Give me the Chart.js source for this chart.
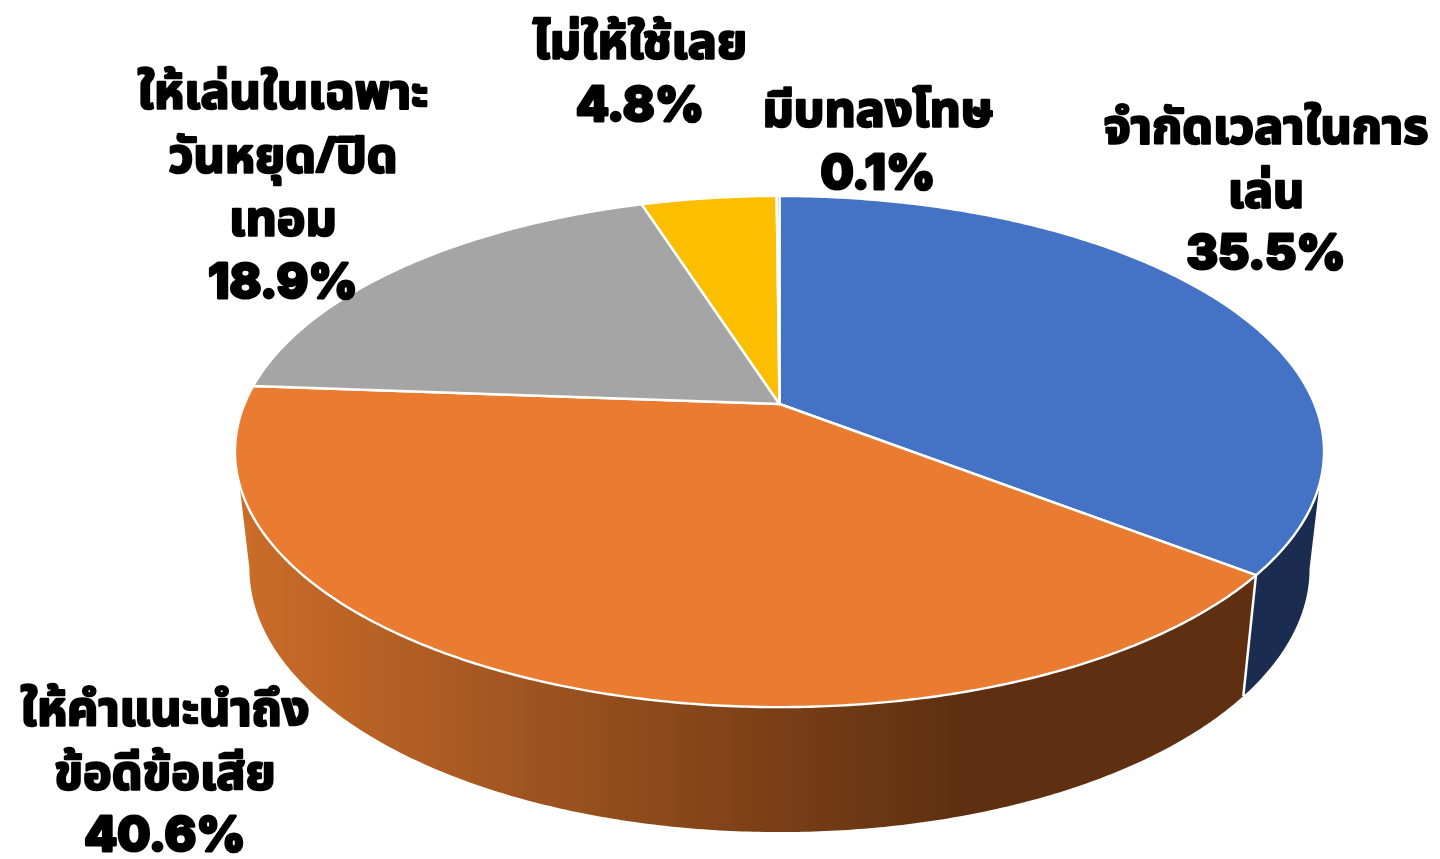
<!DOCTYPE html>
<html><head><meta charset="utf-8">
<style>html,body{margin:0;padding:0;background:#fff}canvas{display:block}</style>
<script src="https://cdn.jsdelivr.net/npm/chart.js@4"></script>
</head><body>
<canvas id="c" width="1440" height="859"></canvas>
<script>
const categories = ["จำกัดเวลาในการเล่น","ให้คำแนะนำถึงข้อดีข้อเสีย","ให้เล่นในเฉพาะวันหยุด/ปิดเทอม","ไม่ให้ใช้เลย","มีบทลงโทษ"];
const values = [35.5,40.6,18.9,4.8,0.1];
const sliceColors = ["#4472C4","#E97C30","#A5A5A5","#FCBF00","#5B9BD5"];
const labelLines = [["จำกัดเวลาในการ","เล่น"],["ให้คำแนะนำถึง","ข้อดีข้อเสีย"],["ให้เล่นในเฉพาะ","วันหยุด/ปิด","เทอม"],["ไม่ให้ใช้เลย"],["มีบทลงโทษ"]];
const percentLabels = ["35.5%","40.6%","18.9%","4.8%","0.1%"];
const labelCenterX = [1266,165,283,640,878];
const labelFirstBaseline = [143,725,108,58,126];
const LINE = 63.5;
const FONT = "700 48.5px 'Noto Sans Thai','Noto Sans',sans-serif";
const NUM_FONT = "800 48px Inter,'Noto Sans',sans-serif";
const topDisc = {cx:779.5,a:535,b:171.6,y:404,k:-0.186};
const lowDisc = {cx:779.5,a:520.8,b:157.8,y:519.5,k:-0.186};
function proj(d,th,r=1){const u=Math.sin(th)*r,v=-Math.cos(th)*r,w=1+d.k*v;return [d.cx+d.a*u/w,(d.y+d.b*v)/w];}
const rad=Math.PI/180;
function findTh(d,from,to,test){let best=from,bv=Infinity;for(let t=from;t<=to;t+=0.1*rad){const v=test(proj(d,t));if(v<bv){bv=v;best=t}}return best;}
function sidePoly(ctx,a0,a1,b0,b1){ctx.beginPath();
 const n=Math.ceil(Math.abs(a1-a0)/(0.5*rad));for(let i=0;i<=n;i++){const p=proj(topDisc,a0+(a1-a0)*i/n);i?ctx.lineTo(p[0],p[1]):ctx.moveTo(p[0],p[1]);}
 const m=Math.ceil(Math.abs(b1-b0)/(0.5*rad));for(let i=0;i<=m;i++){const p=proj(lowDisc,b1+(b0-b1)*i/m);ctx.lineTo(p[0],p[1]);}
 ctx.closePath();}
const pie3d={id:'pie3d',
 beforeDatasetDraw(chart,args){
  const ctx=chart.ctx,arcs=chart.getDatasetMeta(0).data;
  const ang=arcs.map(e=>[e.startAngle+Math.PI/2,e.endAngle+Math.PI/2]);
  const RIGHT_Y=484;
  const thR=findTh(topDisc,60*rad,120*rad,p=>Math.abs(p[1]-RIGHT_Y));
  const thL=findTh(topDisc,240*rad,300*rad,p=>Math.abs(p[1]-RIGHT_Y));
  const lowR=findTh(lowDisc,60*rad,120*rad,p=>-p[0]);
  const lowL=findTh(lowDisc,240*rad,300*rad,p=>p[0]);
  const split=ang[0][1];
  ctx.save();
  ctx.fillStyle="#1A2C50";sidePoly(ctx,thR,split,lowR,split);ctx.fill();
  const g=ctx.createLinearGradient(238,0,960,0);g.addColorStop(0,"#CB6D2A");g.addColorStop(1,"#5E2F10");
  ctx.fillStyle=g;sidePoly(ctx,split,thL,split,lowL);ctx.fill();
  const a=proj(topDisc,split),b=proj(lowDisc,split);
  ctx.strokeStyle="#fff";ctx.lineWidth=2.5;ctx.beginPath();ctx.moveTo(a[0],a[1]);ctx.lineTo(b[0],b[1]);ctx.stroke();
  arcs.forEach((e,i)=>{
    const s=ang[i][0],t=ang[i][1],n=Math.max(2,Math.ceil((t-s)/(0.5*rad)));
    ctx.beginPath();const c=proj(topDisc,0,0);ctx.moveTo(c[0],c[1]);
    for(let k=0;k<=n;k++){const p=proj(topDisc,s+(t-s)*k/n);ctx.lineTo(p[0],p[1]);}
    ctx.closePath();ctx.fillStyle=e.options.backgroundColor;ctx.fill();
    ctx.strokeStyle="#fff";ctx.lineWidth=2.4;ctx.lineJoin="round";ctx.stroke();
  });
  ctx.restore();
  return false;
 },
 afterDatasetsDraw(chart){
  const ctx=chart.ctx;ctx.save();ctx.fillStyle="#000";ctx.strokeStyle="#000";ctx.lineWidth=2.5;ctx.lineJoin="round";ctx.textAlign="center";ctx.textBaseline="alphabetic";
  labelLines.forEach((ls,i)=>{
    ctx.font=FONT;ctx.lineWidth=2.5;
    ls.forEach((s,j)=>{const y=labelFirstBaseline[i]+j*LINE;ctx.strokeText(s,labelCenterX[i],y);ctx.fillText(s,labelCenterX[i],y);});
    ctx.font=NUM_FONT;ctx.lineWidth=3;
    const y=labelFirstBaseline[i]+ls.length*LINE-1;ctx.strokeText(percentLabels[i],labelCenterX[i],y);ctx.fillText(percentLabels[i],labelCenterX[i],y);
  });
  ctx.restore();
 }
};
new Chart(document.getElementById('c'),{type:'pie',
 data:{labels:categories,datasets:[{data:values,backgroundColor:sliceColors,borderColor:"#fff",borderWidth:2}]},
 options:{responsive:false,animation:false,plugins:{legend:{display:false},tooltip:{enabled:false}}},
 plugins:[pie3d]});
</script>
</body></html>
